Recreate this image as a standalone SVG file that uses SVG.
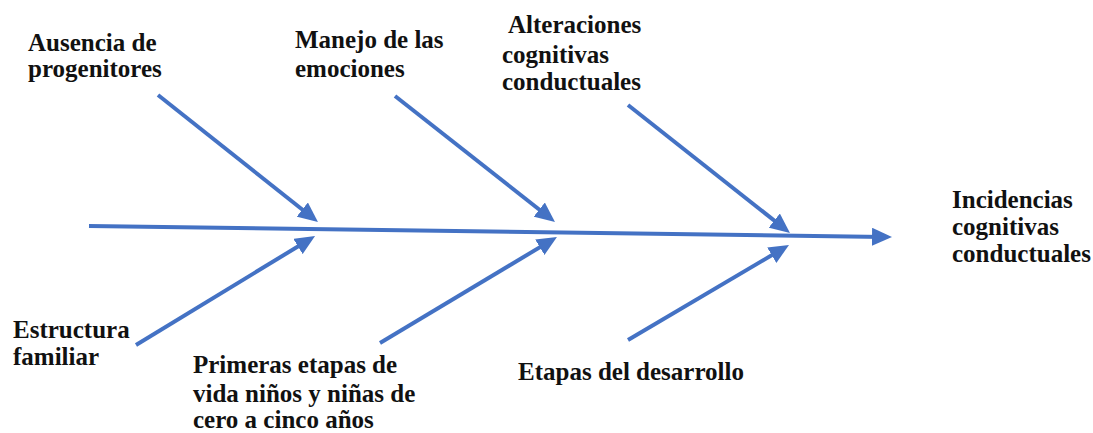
<svg xmlns="http://www.w3.org/2000/svg" width="1093" height="433" viewBox="0 0 1093 433">
<style>
  .lbl { font-family: "Liberation Serif", "Times New Roman", serif; font-weight: bold; font-size: 25px; fill: #111; }
  .conn { stroke: #4472C4; stroke-width: 4; fill: none; marker-end: url(#ah); }
</style>
<defs>
  <marker id="ah" markerUnits="userSpaceOnUse" markerWidth="20" markerHeight="18" refX="12" refY="9" orient="auto">
    <path d="M0,0 L20,9 L0,18 z" fill="#4472C4"/>
  </marker>
</defs>
<rect width="1093" height="433" fill="#fff"/>
<g id="connectors">
  <line class="conn" x1="89" y1="226" x2="884" y2="236.9"/>
  <line class="conn" x1="158" y1="95" x2="311.7" y2="217"/>
  <line class="conn" x1="395" y1="96" x2="548.7" y2="217"/>
  <line class="conn" x1="628" y1="105" x2="783.7" y2="228"/>
  <line class="conn" x1="136" y1="345" x2="308.2" y2="240.2"/>
  <line class="conn" x1="380" y1="343" x2="550.1" y2="241.1"/>
  <line class="conn" x1="628" y1="340" x2="782.1" y2="249.1"/>
</g>
<g id="ausencia"><text class="lbl" x="28" y="51">Ausencia de</text><text class="lbl" x="28" y="77">progenitores</text></g>
<g id="manejo"><text class="lbl" x="295" y="48">Manejo de las</text><text class="lbl" x="295" y="77">emociones</text></g>
<g id="alteraciones"><text class="lbl" x="508" y="33">Alteraciones</text><text class="lbl" x="502" y="63">cognitivas</text><text class="lbl" x="502" y="90">conductuales</text></g>
<g id="incidencias"><text class="lbl" x="952" y="208">Incidencias</text><text class="lbl" x="952" y="235">cognitivas</text><text class="lbl" x="952" y="262">conductuales</text></g>
<g id="estructura"><text class="lbl" x="13" y="338">Estructura</text><text class="lbl" x="13" y="365">familiar</text></g>
<g id="primeras"><text class="lbl" x="193" y="373">Primeras etapas de</text><text class="lbl" x="193" y="402">vida niños y niñas de</text><text class="lbl" x="193" y="428">cero a cinco años</text></g>
<g id="etapas"><text class="lbl" x="518" y="380">Etapas del desarrollo</text></g>
</svg>
